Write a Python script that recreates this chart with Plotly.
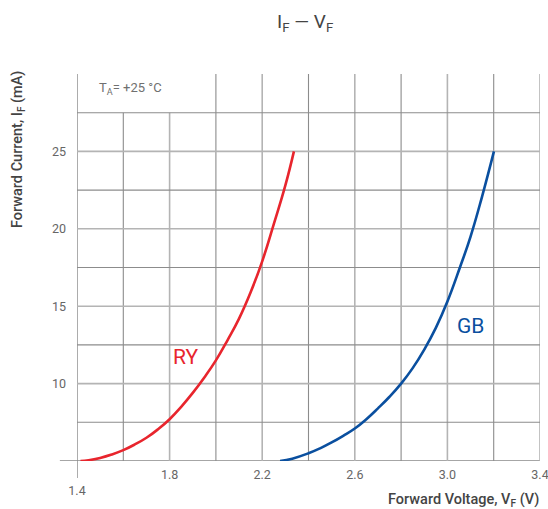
import plotly.graph_objects as go

# Data
ry_voltage = [1.415, 1.45, 1.5, 1.55, 1.6, 1.65, 1.7, 1.75, 1.8, 1.85, 1.9, 1.95, 2.0,
              2.05, 2.1, 2.15, 2.2, 2.25, 2.3, 2.337]
ry_current = [5.0, 5.05, 5.2, 5.42, 5.7, 6.07, 6.5, 7.05, 7.7, 8.5, 9.4, 10.4, 11.5,
              12.8, 14.2, 15.9, 17.9, 20.3, 22.8, 25.0]

gb_voltage = [2.277, 2.33, 2.4, 2.45, 2.5, 2.55, 2.6, 2.65, 2.7, 2.75, 2.8, 2.85, 2.9,
              2.95, 3.0, 3.054, 3.1, 3.15, 3.201]
gb_current = [5.0, 5.15, 5.5, 5.82, 6.2, 6.63, 7.1, 7.7, 8.4, 9.15, 10.0, 11.0, 12.2,
              13.6, 15.3, 17.5, 19.5, 22.1, 25.0]

x_tick_vals = [1.4, 1.8, 2.2, 2.6, 3.0, 3.4]
x_tick_text = ["<br>1.4", "1.8", "2.2", "2.6", "3.0", "3.4"]
y_tick_vals = [10, 15, 20, 25]
y_tick_text = ["10", "15", "20", "25"]

x_min, x_max = 1.4, 3.4
y_min, y_max = 5, 30

FONT = "Roboto"
RED = "#e8252d"
BLUE = "#0a4f9f"
GRID_DARK = "#8c8c8c"
GRID_LIGHT = "#b4b4b4"

fig = go.Figure()
fig.add_trace(go.Scatter(x=ry_voltage, y=ry_current, mode="lines",
                         line=dict(color=RED, width=2.6, shape="spline", smoothing=1.3),
                         hoverinfo="skip", showlegend=False))
fig.add_trace(go.Scatter(x=gb_voltage, y=gb_current, mode="lines",
                         line=dict(color=BLUE, width=2.6, shape="spline", smoothing=1.3),
                         hoverinfo="skip", showlegend=False))

shapes = []
# vertical grid lines every 0.2 V
for i in range(1, 11):
    xv = round(x_min + 0.2 * i, 2)
    major = any(abs(xv - t) < 1e-6 for t in x_tick_vals)
    top = 27.5 if xv < 1.9 else y_max
    shapes.append(dict(type="line", xref="x", yref="y", x0=xv, x1=xv, y0=y_min, y1=top,
                       line=dict(color=GRID_LIGHT if major else GRID_DARK,
                                 width=1.6 if major else 1.1), layer="below"))
# horizontal grid lines every 2.5 mA
for i in range(1, 10):
    yv = y_min + 2.5 * i
    major = any(abs(yv - t) < 1e-6 for t in y_tick_vals)
    shapes.append(dict(type="line", xref="x", yref="y", x0=x_min, x1=x_max, y0=yv, y1=yv,
                       line=dict(color=GRID_LIGHT if major else GRID_DARK,
                                 width=1.6 if major else 1.1), layer="below"))
# axis lines (extending past the corner)
shapes.append(dict(type="line", xref="x", yref="paper", x0=x_min, x1=x_min, y0=-0.044, y1=1,
                   line=dict(color="#888888", width=1.4), layer="below"))
shapes.append(dict(type="line", xref="paper", yref="y", x0=-0.037, x1=1, y0=y_min, y1=y_min,
                   line=dict(color="#888888", width=1.4), layer="below"))

annotations = [
    dict(text="I<sub>F</sub> — V<sub>F</sub>", xref="paper", yref="paper", x=0.4924, y=1.134,
         showarrow=False, font=dict(family=FONT, size=19, color="#444444", weight=400),
         xanchor="center", yanchor="middle"),
    dict(text="T<sub>A</sub>= +25 °C", xref="x", yref="y", x=1.486, y=29.06,
         showarrow=False, font=dict(family=FONT, size=13, color="#707070"), xanchor="left", yanchor="middle"),
    dict(text="RY", xref="x", yref="y", x=1.867, y=11.7, showarrow=False,
         font=dict(family=FONT, size=21, color=RED), xanchor="center", yanchor="middle"),
    dict(text="GB", xref="x", yref="y", x=3.098, y=13.7, showarrow=False,
         font=dict(family=FONT, size=21, color=BLUE), xanchor="center", yanchor="middle"),
    dict(text="Forward Voltage, V<sub>F</sub> (V)", xref="paper", yref="paper", x=1.003, y=-0.101,
         showarrow=False, font=dict(family=FONT, size=14.5, color="#444444", weight=500),
         xanchor="right", yanchor="middle"),
    dict(text="Forward Current, I<sub>F</sub> (mA)", xref="paper", yref="paper", x=-0.1274, y=0.8036,
         showarrow=False, textangle=-90, font=dict(family=FONT, size=14.5, color="#444444", weight=500),
         xanchor="center", yanchor="middle"),
]

fig.update_layout(
    width=548, height=509,
    margin=dict(l=77, r=8, t=74, b=48, autoexpand=False),
    paper_bgcolor="white", plot_bgcolor="white",
    shapes=shapes, annotations=annotations,
    xaxis=dict(range=[x_min, x_max], showgrid=False, zeroline=False, showline=False,
               tickvals=x_tick_vals, ticktext=x_tick_text, ticks="",
               tickfont=dict(family=FONT, size=12.5, color="#666666"), ticklabelstandoff=4,
               ticklabeloverflow="allow", automargin=False, fixedrange=True),
    yaxis=dict(range=[y_min, y_max], showgrid=False, zeroline=False, showline=False,
               tickvals=y_tick_vals, ticktext=y_tick_text, ticks="",
               tickfont=dict(family=FONT, size=12.5, color="#666666"), ticklabelstandoff=10,
               automargin=False, fixedrange=True),
)

fig.write_html("out.html", config={"displayModeBar": False},
               post_script="document.body.style.margin='0';document.body.style.padding='0';")
